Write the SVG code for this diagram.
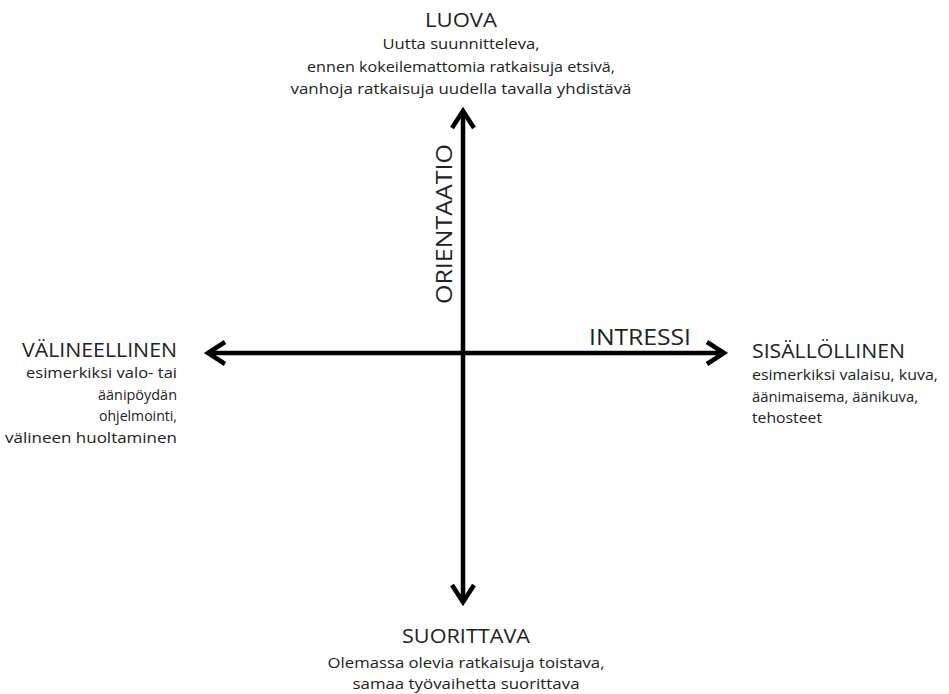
<svg xmlns="http://www.w3.org/2000/svg" width="949" height="694" viewBox="0 0 949 694">
  <style>
    text { font-family: "Open Sans", Lato, "Liberation Sans", sans-serif; fill: #222; }
    .head { font-size: 20px; }
    .desc { font-size: 14.5px; }
    .axis-title { font-size: 21px; }
    .mid { text-anchor: middle; }
    .end { text-anchor: end; }
    .axis { stroke: #000; stroke-width: 4.5; fill: none; marker-start: url(#arrow); marker-end: url(#arrow); }
  </style>
  <defs>
    <marker id="arrow" markerUnits="userSpaceOnUse" viewBox="-22 -16 30 32" markerWidth="30" markerHeight="32" refX="0" refY="0" orient="auto-start-reverse" overflow="visible">
      <path d="M-17,-11 L0,0 L-17,11" fill="none" stroke="#000" stroke-width="4.5" stroke-linejoin="miter"/>
    </marker>
  </defs>

  <rect width="949" height="694" fill="#fff"/>

  <!-- axes -->
  <g id="connectors">
    <path id="axis-orientaatio" class="axis" d="M463,602 L463,111"/>
    <path id="axis-intressi" class="axis" d="M208,353 L724,353"/>
    <text class="axis-title" transform="translate(452,224) rotate(-90)" text-anchor="middle" textLength="160" lengthAdjust="spacingAndGlyphs">ORIENTAATIO</text>
    <text class="axis-title" x="640" y="345" text-anchor="middle" textLength="102" lengthAdjust="spacingAndGlyphs">INTRESSI</text>
  </g>

  <!-- top pole -->
  <g id="luova">
    <text class="head mid" x="461" y="27" textLength="72" lengthAdjust="spacingAndGlyphs">LUOVA</text>
    <text class="desc mid" x="461" y="49" textLength="157" lengthAdjust="spacingAndGlyphs">Uutta suunnitteleva,</text>
    <text class="desc mid" x="461" y="72" textLength="308" lengthAdjust="spacingAndGlyphs">ennen kokeilemattomia ratkaisuja etsivä,</text>
    <text class="desc mid" x="461" y="94" textLength="341" lengthAdjust="spacingAndGlyphs">vanhoja ratkaisuja uudella tavalla yhdistävä</text>
  </g>

  <!-- bottom pole -->
  <g id="suorittava">
    <text class="head mid" x="466" y="643" textLength="128" lengthAdjust="spacingAndGlyphs">SUORITTAVA</text>
    <text class="desc mid" x="466" y="668" textLength="277" lengthAdjust="spacingAndGlyphs">Olemassa olevia ratkaisuja toistava,</text>
    <text class="desc mid" x="466" y="689" textLength="227" lengthAdjust="spacingAndGlyphs">samaa työvaihetta suorittava</text>
  </g>

  <!-- left pole -->
  <g id="valineellinen">
    <text class="head end" x="177" y="357" textLength="155" lengthAdjust="spacingAndGlyphs">VÄLINEELLINEN</text>
    <text class="desc end" x="177" y="378" textLength="151" lengthAdjust="spacingAndGlyphs">esimerkiksi valo- tai</text>
    <text class="desc end" x="177" y="400" textLength="79" lengthAdjust="spacingAndGlyphs">äänipöydän</text>
    <text class="desc end" x="177" y="421" textLength="78" lengthAdjust="spacingAndGlyphs">ohjelmointi,</text>
    <text class="desc end" x="177" y="443" textLength="172" lengthAdjust="spacingAndGlyphs">välineen huoltaminen</text>
  </g>

  <!-- right pole -->
  <g id="sisallollinen">
    <text class="head" x="752" y="358" textLength="153" lengthAdjust="spacingAndGlyphs">SISÄLLÖLLINEN</text>
    <text class="desc" x="752" y="380" textLength="186" lengthAdjust="spacingAndGlyphs">esimerkiksi valaisu, kuva,</text>
    <text class="desc" x="752" y="402" textLength="166" lengthAdjust="spacingAndGlyphs">äänimaisema, äänikuva,</text>
    <text class="desc" x="752" y="423" textLength="70" lengthAdjust="spacingAndGlyphs">tehosteet</text>
  </g>
</svg>
